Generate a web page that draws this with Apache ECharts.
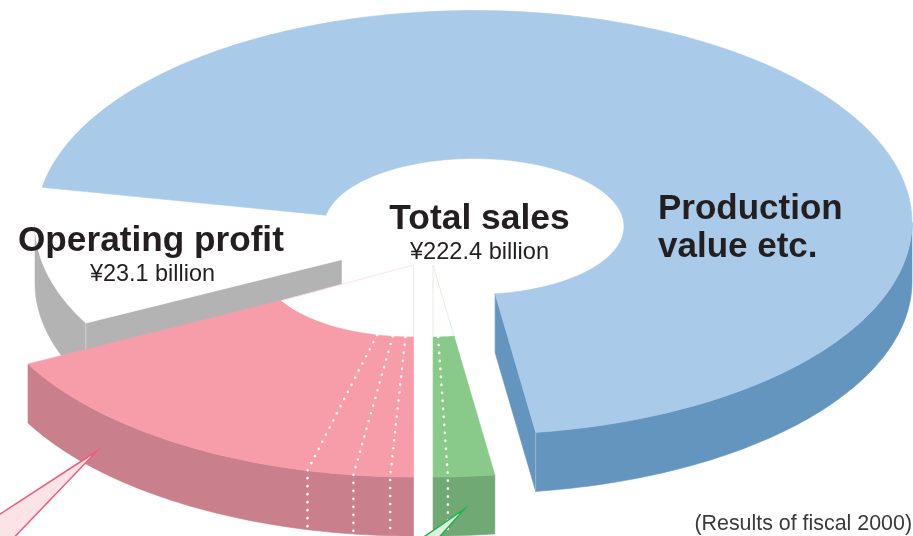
<!DOCTYPE html>
<html>
<head>
<meta charset="utf-8">
<style>html,body{margin:0;padding:0;background:#fff}#c{width:913px;height:536px}</style>
<script src="https://cdn.jsdelivr.net/npm/echarts@6/dist/echarts.min.js"></script>
</head>
<body>
<div id="c"></div>
<script>
// ---- data (¥ billion), clockwise from the right-hand edge of the green wedge ----
const sliceNames  = ['Green A','Green B','Pink A','Pink B','Pink C','Pink D','Operating profit','Production value etc.'];
const sliceValues = [3.8, 1.2, 1.9, 3.0, 3.8, 29.7, 23.1, 155.9];
const sliceGroups = ['green','green','pink','pink','pink','pink','profit','production'];
const drawOrder   = [7, 6, 2, 3, 4, 5, 0, 1];
const totalSales  = 222.4;

// ---- styling & projection ----
const startAngle = 81.9;
const RY = 212, IRX = 150, IRY = 68, INNER_DY = 4, DEPTH = 59;
const groupStyle = {
  production: {cx: 474, cy: 222.5, rx: 438, top: '#A9CAE9', wall: '#6495BE', edge: '#A5C2DB', face: 'end'},
  profit:     {cx: 474, cy: 224, rx: 439, top: '#FFFFFF', wall: '#B3B3B3', edge: '#D6D6D6', face: 'start'},
  pink:       {cx: 413.5, cy: 265, rx: 436, top: '#F79CA9', wall: '#C9808C', faint: '#FBE0E4'},
  green:      {cx: 433, cy: 265, rx: 439, top: '#89CA8A', wall: '#71A975', faint: '#DDEFDD'}
};

// ---- geometry derived from the values ----
const sum = sliceValues.reduce((a, b) => a + b, 0);
const angles = [];
let acc = startAngle;
sliceValues.forEach(v => { const a = acc; acc += v / sum * 360; angles.push([a, acc]); });
const groupRange = {};
sliceGroups.forEach((g, i) => {
  if (!groupRange[g]) groupRange[g] = [angles[i][0], angles[i][1]];
  else groupRange[g][1] = angles[i][1];
});
const rad = d => d * Math.PI / 180;
const outer = (s, t, dz) => [s.cx + s.rx * Math.cos(rad(t)), s.cy + RY * Math.sin(rad(t)) + (dz || 0)];
const inner = (s, t, dz) => [s.cx + IRX * Math.cos(rad(t)), s.cy + INNER_DY + IRY * Math.sin(rad(t)) + (dz || 0)];
function arc(fn, s, a, b, dz) {
  const n = Math.max(2, Math.ceil(Math.abs(b - a))), pts = [];
  for (let i = 0; i <= n; i++) pts.push(fn(s, a + (b - a) * i / n, dz));
  return pts;
}
function poly(points, fill, stroke, lw) {
  return {type: 'polygon', silent: true, shape: {points},
    style: {fill, stroke: stroke || fill, lineWidth: lw === undefined ? 0.6 : lw}};
}
function line(points, stroke, lw, dash) {
  const style = {fill: null, stroke, lineWidth: lw};
  if (dash) { style.lineDash = dash; style.lineCap = 'round'; }
  return {type: 'polyline', silent: true, shape: {points}, style};
}
function wallParts(s, a, b) {
  const out = [];
  // the part of the outer rim that faces the viewer (sin t > 0)
  for (let k = -1; k <= 2; k++) {
    const lo = Math.max(a, k * 360), hi = Math.min(b, k * 360 + 180);
    if (hi > lo) out.push(poly(arc(outer, s, lo, hi, 0).concat(arc(outer, s, hi, lo, DEPTH)), s.wall));
  }
  return out;
}
function cutFace(s, t) {
  return poly([outer(s, t), inner(s, t), inner(s, t, DEPTH), outer(s, t, DEPTH)], s.wall);
}

function renderItem(params) {
  const idx = drawOrder[params.dataIndex];
  const g = sliceGroups[idx], s = groupStyle[g];
  const [a, b] = angles[idx];
  const range = groupRange[g];
  const isFirst = a === range[0];
  const children = [];

  if (isFirst && s.faint) {
    // hollow inner part of an exploded wedge, hiding what lies behind it
    const c = [s.cx, s.cy];
    const tips = arc(inner, s, range[0], range[1]);
    children.push(poly([c].concat(tips), '#FFFFFF', '#FFFFFF', 0));
    children.push(line([tips[0], c, tips[tips.length - 1]], s.faint, 0.9));
  }
  // visible cut face of the wedges that show one
  if (s.face === 'start') children.push(cutFace(s, a));
  if (s.face === 'end') children.push(cutFace(s, b));

  children.push.apply(children, wallParts(s, a, b));
  if (s.face === 'start') children.push(line([outer(s, a), outer(s, a, DEPTH)], s.edge, 0.8));
  if (s.face === 'end') children.push(line([outer(s, b), outer(s, b, DEPTH)], s.edge, 0.8));
  children.push(poly(arc(outer, s, a, b).concat(arc(inner, s, b, a)), s.top));
  if (!isFirst) {
    children.push(line([inner(s, a), outer(s, a), outer(s, a, DEPTH)], '#FFFFFF', 2.6, [0, 8]));
  }
  return {type: 'group', children};
}

function label(text, x, y, size, weight, align, fill) {
  return {type: 'text', silent: true, z: 50, x, y,
    style: {text, fill: fill || '#231F20', textAlign: align, textVerticalAlign: 'middle',
      font: `${weight} ${size}px "Liberation Sans", Arial, sans-serif`}};
}

const chart = echarts.init(document.getElementById('c'), null, {renderer: 'canvas'});
chart.setOption({
  animation: false,
  backgroundColor: '#FFFFFF',
  series: [{
    type: 'custom',
    coordinateSystem: 'none',
    silent: true,
    renderItem,
    data: drawOrder.map(i => ({name: sliceNames[i], value: [sliceValues[i]]}))
  }],
  graphic: {elements: [
    {type: 'polygon', silent: true, z: 40,
      shape: {points: [[97, 451], [-12, 522], [-12, 548], [4, 548]]},
      style: {fill: '#FBE3E6', stroke: '#EF5B80', lineWidth: 1.5}},
    {type: 'polygon', silent: true, z: 40,
      shape: {points: [[464.5, 509], [415, 543], [434, 543]]},
      style: {fill: '#E0F0E0', stroke: '#22B24C', lineWidth: 1.5}},
    label('Production', 658, 209, 35, 'bold', 'left'),
    label('value etc.', 658, 247, 35, 'bold', 'left'),
    label('Total sales', 479.5, 219, 35.4, 'bold', 'center'),
    label('¥' + totalSales.toFixed(1) + ' billion', 479.5, 252, 23.6, 'normal', 'center'),
    label('Operating profit', 18, 241, 35.2, 'bold', 'left'),
    label('¥' + sliceValues[6].toFixed(1) + ' billion', 152.5, 275, 23.4, 'normal', 'center'),
    label('(Results of fiscal 2000)', 912, 524, 21.4, 'normal', 'right', '#3A3A3A')
  ]}
});
</script>
</body>
</html>
